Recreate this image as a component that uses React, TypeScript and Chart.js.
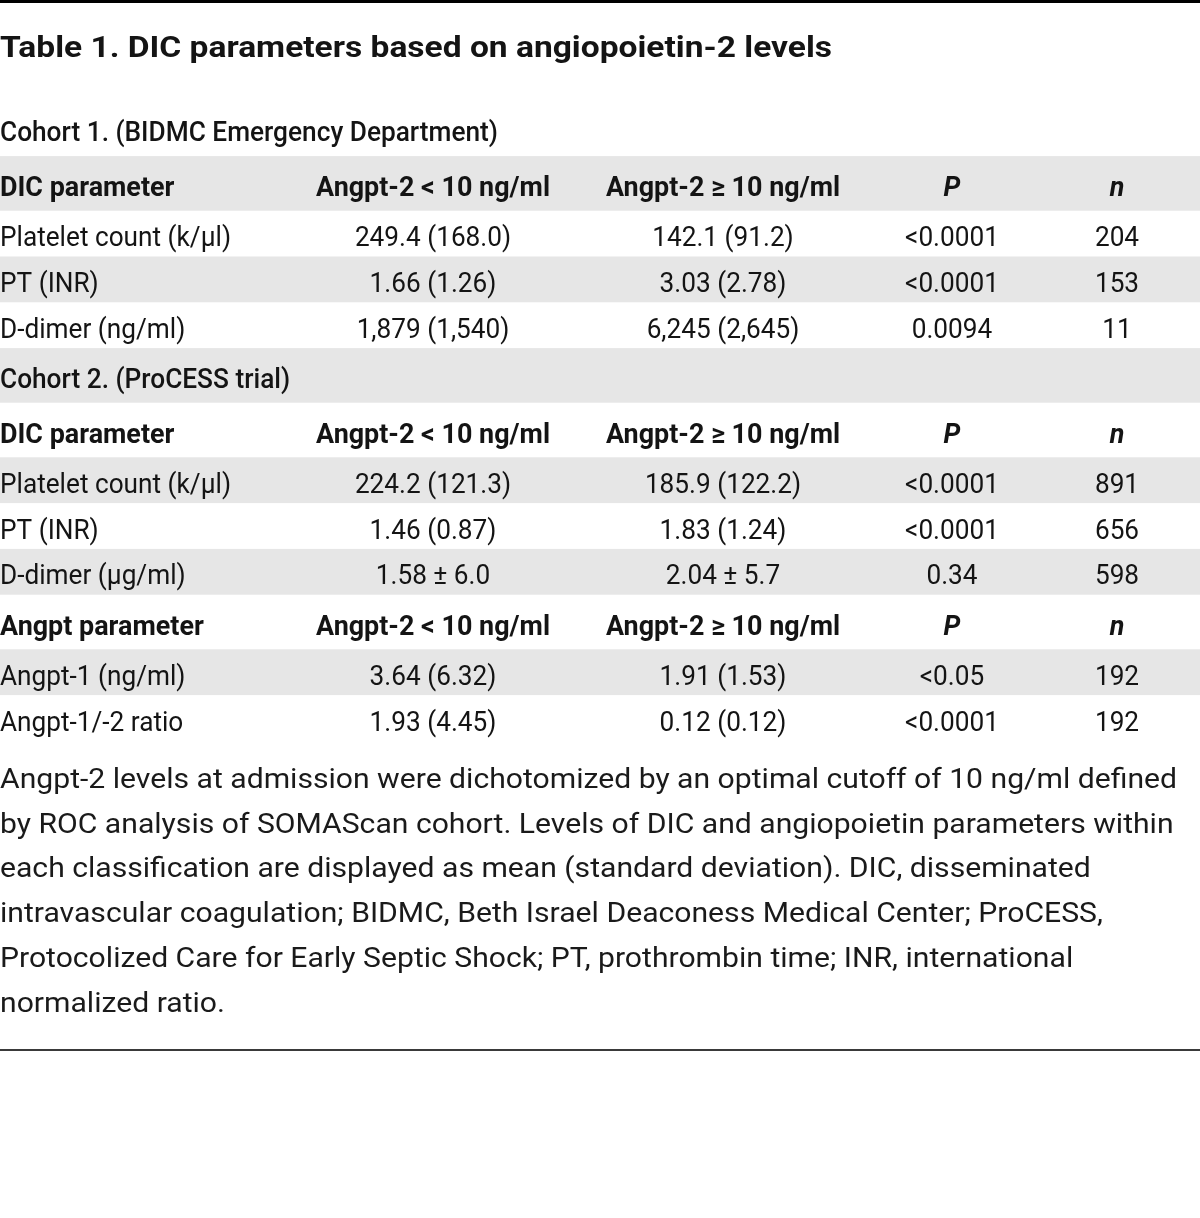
import React, { useEffect, useRef } from "react";
import { Chart, registerables } from "chart.js";

Chart.register(...registerables);

// ---------- data ----------
const TITLE = "Table 1. DIC parameters based on angiopoietin-2 levels";
const COHORT1_TITLE = "Cohort 1. (BIDMC Emergency Department)";
const COHORT2_TITLE = "Cohort 2. (ProCESS trial)";
const DIC_HEADER = ["DIC parameter", "Angpt-2 < 10 ng/ml", "Angpt-2 ≥ 10 ng/ml", "P", "n"];
const ANGPT_HEADER = ["Angpt parameter", "Angpt-2 < 10 ng/ml", "Angpt-2 ≥ 10 ng/ml", "P", "n"];

const C1_PARAMS = ["Platelet count (k/μl)", "PT (INR)", "D-dimer (ng/ml)"];
const C1_LOW = ["249.4 (168.0)", "1.66 (1.26)", "1,879 (1,540)"];
const C1_HIGH = ["142.1 (91.2)", "3.03 (2.78)", "6,245 (2,645)"];
const C1_P = ["<0.0001", "<0.0001", "0.0094"];
const C1_N = ["204", "153", "11"];

const C2_PARAMS = ["Platelet count (k/μl)", "PT (INR)", "D-dimer (μg/ml)"];
const C2_LOW = ["224.2 (121.3)", "1.46 (0.87)", "1.58 ± 6.0"];
const C2_HIGH = ["185.9 (122.2)", "1.83 (1.24)", "2.04 ± 5.7"];
const C2_P = ["<0.0001", "<0.0001", "0.34"];
const C2_N = ["891", "656", "598"];

const ANGPT_PARAMS = ["Angpt-1 (ng/ml)", "Angpt-1/-2 ratio"];
const ANGPT_LOW = ["3.64 (6.32)", "1.93 (4.45)"];
const ANGPT_HIGH = ["1.91 (1.53)", "0.12 (0.12)"];
const ANGPT_P = ["<0.05", "<0.0001"];
const ANGPT_N = ["192", "192"];

const FOOTNOTE_LINES = [
  "Angpt-2 levels at admission were dichotomized by an optimal cutoff of 10 ng/ml defined",
  "by ROC analysis of SOMAScan cohort. Levels of DIC and angiopoietin parameters within",
  "each classification are displayed as mean (standard deviation). DIC, disseminated",
  "intravascular coagulation; BIDMC, Beth Israel Deaconess Medical Center; ProCESS,",
  "Protocolized Care for Early Septic Shock; PT, prothrombin time; INR, international",
  "normalized ratio.",
];

// ---------- layout / style ----------
const W = 1200;
const H = 1218;
const FONT = 'Roboto, "Noto Sans", "Liberation Sans", sans-serif';
const COL_X = [0, 433, 723, 952, 1117];
const TABLE_TOP = 101.5;
const ROW_H = { section: 54.6, header: 54.6, data: 45.8 };
const BASELINE_OFF = 12.5;
const TITLE_BASELINE = 57;
const FOOT_BASELINE = 788;
const FOOT_STEP = 44.7;
const BOTTOM_RULE = 1050;
const BAND = "#e6e6e6";
const INK = "#141414";

type Row = { kind: "section" | "header" | "data"; cells: string[] };

function buildRows(): Row[] {
  const rows: Row[] = [];
  const block = (p: string[], lo: string[], hi: string[], pv: string[], n: string[]) =>
    p.forEach((name, i) => rows.push({ kind: "data", cells: [name, lo[i], hi[i], pv[i], n[i]] }));
  rows.push({ kind: "section", cells: [COHORT1_TITLE] });
  rows.push({ kind: "header", cells: DIC_HEADER });
  block(C1_PARAMS, C1_LOW, C1_HIGH, C1_P, C1_N);
  rows.push({ kind: "section", cells: [COHORT2_TITLE] });
  rows.push({ kind: "header", cells: DIC_HEADER });
  block(C2_PARAMS, C2_LOW, C2_HIGH, C2_P, C2_N);
  rows.push({ kind: "header", cells: ANGPT_HEADER });
  block(ANGPT_PARAMS, ANGPT_LOW, ANGPT_HIGH, ANGPT_P, ANGPT_N);
  return rows;
}

// text styles: font + calibration string with its width in the reference
const STYLES: Record<string, { font: string; calib: string; width: number }> = {
  title: { font: `bold 29px ${FONT}`, calib: TITLE, width: 832 },
  section: { font: `500 28px ${FONT}`, calib: COHORT1_TITLE, width: 498 },
  header: { font: `bold 28px ${FONT}`, calib: "Angpt-2 < 10 ng/ml", width: 234 },
  headerItalic: { font: `italic bold 28px ${FONT}`, calib: "Angpt-2 < 10 ng/ml", width: 234 },
  cell: { font: `28px ${FONT}`, calib: "Platelet count (k/μl)", width: 231 },
  foot: { font: `28px ${FONT}`, calib: FOOTNOTE_LINES[0], width: 1177 },
};

function drawText(ctx: CanvasRenderingContext2D, style: string, text: string, x: number, y: number, align: CanvasTextAlign) {
  const st = STYLES[style];
  ctx.save();
  ctx.font = st.font.replace("italic ", "");
  const cw = ctx.measureText(st.calib).width;
  const sx = cw > 0 ? st.width / cw : 1;
  ctx.font = st.font;
  ctx.translate(x, y);
  ctx.scale(sx, 1);
  ctx.textAlign = align;
  ctx.textBaseline = "alphabetic";
  ctx.fillText(text, 0, 0);
  ctx.restore();
}

const tablePlugin = {
  id: "tablePlugin",
  beforeDraw(chart: any) {
    const { ctx } = chart;
    const xs = chart.scales.x;
    const ys = chart.scales.y;
    const left = xs.getPixelForValue(0);
    const right = xs.getPixelForValue(W);
    ctx.save();
    ctx.fillStyle = "#ffffff";
    ctx.fillRect(0, 0, chart.width, chart.height);

    // top rule
    ctx.fillStyle = "#000000";
    ctx.fillRect(left, ys.getPixelForValue(0), right - left, 3);

    ctx.fillStyle = INK;
    drawText(ctx, "title", TITLE, left, ys.getPixelForValue(TITLE_BASELINE), "left");

    const rows = buildRows();
    let top = TABLE_TOP;
    rows.forEach((r, i) => {
      const h = ROW_H[r.kind];
      const y0 = ys.getPixelForValue(top);
      const y1 = ys.getPixelForValue(top + h);
      if (i % 2 === 1) {
        ctx.fillStyle = BAND;
        ctx.fillRect(left, y0, right - left, y1 - y0);
      }
      const base = ys.getPixelForValue(top + h / 2 + BASELINE_OFF);
      ctx.fillStyle = INK;
      if (r.kind === "section") {
        drawText(ctx, "section", r.cells[0], left, base, "left");
      } else {
        r.cells.forEach((c, j) => {
          const st = r.kind === "header" ? (j >= 3 ? "headerItalic" : "header") : "cell";
          const x = xs.getPixelForValue(COL_X[j]);
          drawText(ctx, st, c, x, base, j === 0 ? "left" : "center");
        });
      }
      top += h;
    });

    ctx.fillStyle = "#1a1a1a";
    FOOTNOTE_LINES.forEach((line, k) => {
      drawText(ctx, "foot", line, left, ys.getPixelForValue(FOOT_BASELINE + k * FOOT_STEP), "left");
    });

    ctx.fillStyle = "#3a3a3a";
    ctx.fillRect(left, ys.getPixelForValue(BOTTOM_RULE - 1), right - left, 2);
    ctx.restore();
  },
};

export default function App() {
  const ref = useRef<HTMLCanvasElement | null>(null);
  useEffect(() => {
    document.body.style.margin = "0";
    const canvas = ref.current;
    if (!canvas) return;
    const chart = new Chart(canvas, {
      type: "bar",
      data: { labels: [], datasets: [] },
      options: {
        animation: false,
        responsive: false,
        devicePixelRatio: 1,
        events: [],
        layout: { padding: 0 },
        plugins: { legend: { display: false }, tooltip: { enabled: false } },
        scales: {
          x: { type: "linear", min: 0, max: W, display: false, offset: false, grace: 0 },
          y: { type: "linear", min: 0, max: H, reverse: true, display: false, offset: false, grace: 0 },
        },
      },
      plugins: [tablePlugin],
    } as any);
    return () => chart.destroy();
  }, []);
  return (
    <div style={{ width: W, height: H, position: "absolute", left: 0, top: 0 }}>
      <canvas ref={ref} width={W} height={H} style={{ width: W, height: H, display: "block" }} />
    </div>
  );
}
